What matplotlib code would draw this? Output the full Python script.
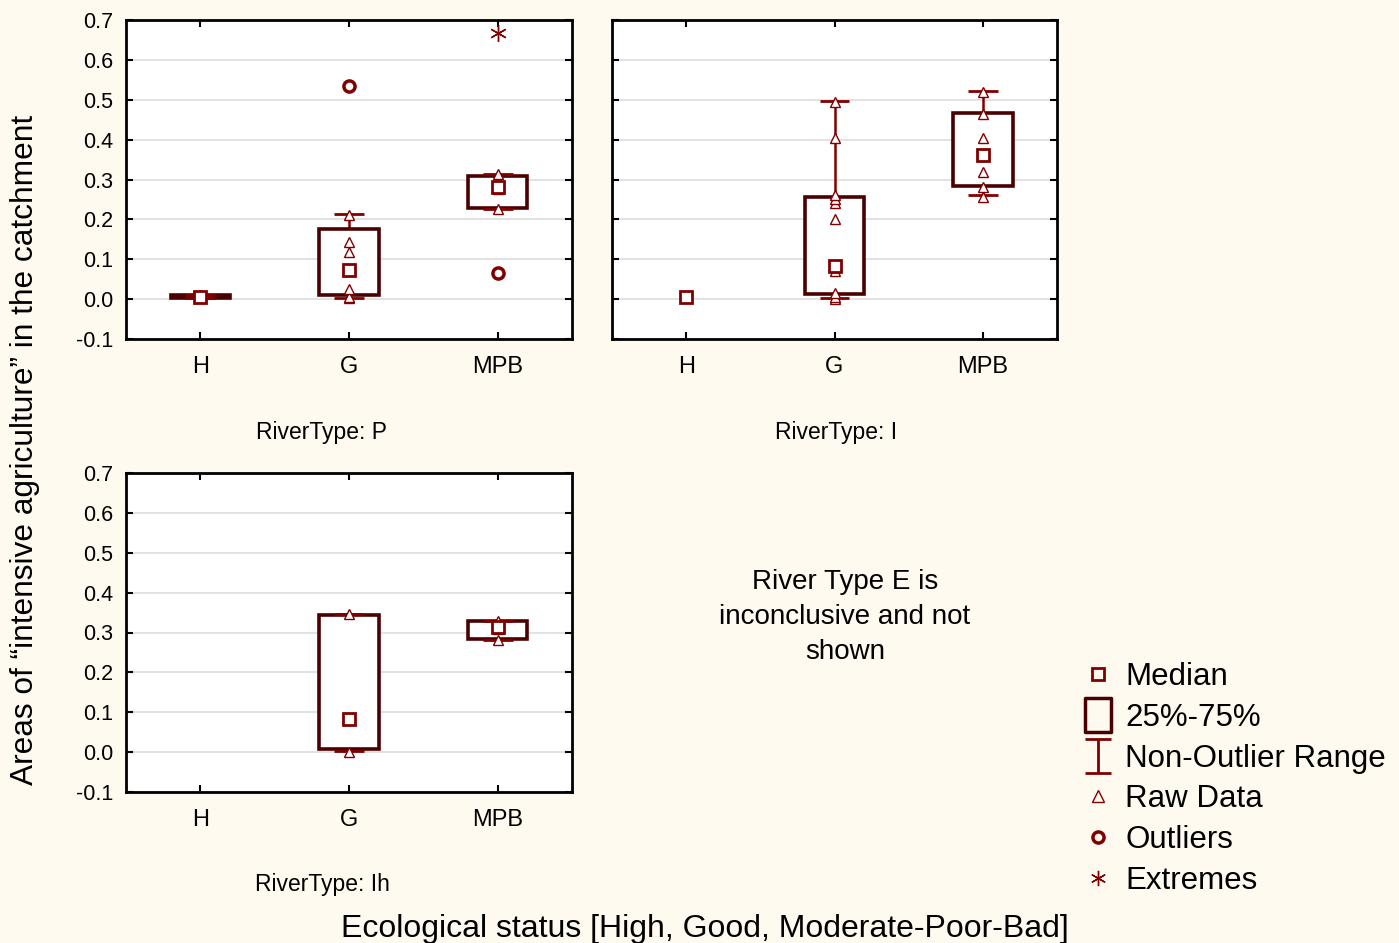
import numpy as np
import matplotlib
matplotlib.use("Agg")
import matplotlib.pyplot as plt
from matplotlib.patches import Rectangle
from matplotlib.lines import Line2D
from matplotlib.path import Path

plt.rcParams['font.family'] = ['Liberation Sans', 'DejaVu Sans']

categories = ["H", "G", "MPB"]
yticks = [-0.1, 0.0, 0.1, 0.2, 0.3, 0.4, 0.5, 0.6, 0.7]

# River type P
p_median = [0.006, 0.073, 0.281]
p_q1 = [0.002, 0.010, 0.228]
p_q3 = [0.010, 0.175, 0.310]
p_wlo = [0.002, 0.004, 0.225]
p_whi = [0.010, 0.213, 0.315]
p_raw = [[0.002, 0.006, 0.010],
         [0.002, 0.006, 0.025, 0.073, 0.118, 0.143, 0.210],
         [0.225, 0.275, 0.285, 0.300, 0.315]]
p_out = [[], [0.534], [0.065]]
p_ext = [[], [], [0.667]]

# River type I
i_median = [0.005, 0.084, 0.361]
i_q1 = [0.005, 0.013, 0.283]
i_q3 = [0.005, 0.256, 0.468]
i_wlo = [0.005, 0.003, 0.262]
i_whi = [0.005, 0.497, 0.522]
i_raw = [[0.005],
         [0.0, 0.005, 0.015, 0.070, 0.080, 0.200, 0.240, 0.250, 0.260, 0.404, 0.495],
         [0.255, 0.280, 0.320, 0.403, 0.465, 0.520]]
i_out = [[], [], []]
i_ext = [[], [], []]

# River type Ih
ih_median = [np.nan, 0.082, 0.314]
ih_q1 = [np.nan, 0.008, 0.284]
ih_q3 = [np.nan, 0.343, 0.329]
ih_wlo = [np.nan, 0.003, 0.280]
ih_whi = [np.nan, 0.346, 0.330]
ih_raw = [[], [0.0, 0.082, 0.347], [0.280, 0.310, 0.320, 0.330]]
ih_out = [[], [], []]
ih_ext = [[], [], []]

BG = '#fffaf0'
BOX = '#4a0000'
RED = '#800000'

fig = plt.figure(figsize=(13.99, 9.43), dpi=100, facecolor=BG)


def draw_panel(ax, med, q1, q3, wlo, whi, raw, out, ext, ylabels=True):
    ax.set_facecolor('white')
    for i in range(len(categories)):
        if np.isnan(med[i]):
            continue
        if whi[i] > wlo[i]:
            ax.vlines(i, wlo[i], whi[i], color=RED, lw=1.8, zorder=2)
            ax.hlines([wlo[i], whi[i]], i - 0.1, i + 0.1, color=RED, lw=2, zorder=4)
        if q3[i] > q1[i]:
            ax.add_patch(Rectangle((i - 0.2, q1[i]), 0.4, q3[i] - q1[i],
                                   facecolor='white', edgecolor=BOX, lw=2.6, zorder=3))
        ax.plot([i] * len(raw[i]), raw[i], '^', ms=7.5, mfc='white', mec=RED, mew=1, ls='none', zorder=5)
        ax.plot(i, med[i], 's', ms=8, mfc='white', mec=RED, mew=2, zorder=6)
        if out[i]:
            ax.plot([i] * len(out[i]), out[i], 'o', ms=8, mfc='white', mec=RED, mew=2.5, ls='none', zorder=6)
        if ext[i]:
            ax.plot([i] * len(ext[i]), ext[i], marker=(6, 2, 0), ms=12, mec=RED, mew=1, ls='none', zorder=6)
    ax.set_xlim(-0.5, 2.5)
    ax.set_ylim(-0.1, 0.7)
    ax.set_xticks(range(len(categories)))
    ax.set_xticklabels(categories, fontsize=17)
    ax.set_yticks(yticks)
    ax.set_yticklabels([f"{v:.1f}" for v in yticks], fontsize=15.5)
    if not ylabels:
        ax.tick_params(labelleft=False)
    ax.tick_params(axis='x', direction='in', top=True, length=5, width=1.5, pad=12.5)
    ax.tick_params(axis='y', direction='in', right=True, length=5, width=1.5, pad=9)
    ax.grid(axis='y', color='#dddddd', lw=1.2, zorder=0)
    ax.set_axisbelow(True)
    for s in ax.spines.values():
        s.set_linewidth(2)


W, H = 1399, 943
ax1 = fig.add_axes([126 / W, 1 - 339 / H, 446 / W, 319 / H])
ax2 = fig.add_axes([612 / W, 1 - 339 / H, 445 / W, 319 / H])
ax3 = fig.add_axes([126 / W, 1 - 792 / H, 446 / W, 319 / H])

draw_panel(ax1, p_median, p_q1, p_q3, p_wlo, p_whi, p_raw, p_out, p_ext)
draw_panel(ax2, i_median, i_q1, i_q3, i_wlo, i_whi, i_raw, i_out, i_ext, ylabels=False)
draw_panel(ax3, ih_median, ih_q1, ih_q3, ih_wlo, ih_whi, ih_raw, ih_out, ih_ext)

fig.text(322 / W, 1 - 432 / H, "RiverType: P", ha='center', va='center', fontsize=16.5)
fig.text(836 / W, 1 - 432 / H, "RiverType: I", ha='center', va='center', fontsize=16.5)
fig.text(322 / W, 1 - 885 / H, "RiverType: Ih", ha='center', va='center', fontsize=16.5)

fig.text(845 / W, 1 - 617 / H, "River Type E is\ninconclusive and not\nshown",
         ha='center', va='center', fontsize=20, linespacing=1.45)

fig.text(25 / W, 1 - 450 / H, "Areas of \u201cintensive agriculture\u201d in the catchment",
         rotation=90, ha='center', va='center', fontsize=22.8)
fig.text(705 / W, 1 - 929 / H, "Ecological status [High, Good, Moderate-Poor-Bad]",
         ha='center', va='center', fontsize=23)

# legend
box_path = Path([(-0.4, -0.5), (0.4, -0.5), (0.4, 0.5), (-0.4, 0.5), (-0.4, -0.5)],
                [Path.MOVETO, Path.LINETO, Path.LINETO, Path.LINETO, Path.CLOSEPOLY])
whisk_path = Path([(-0.4, 0.5), (0.4, 0.5), (0, 0.5), (0, -0.5), (-0.4, -0.5), (0.4, -0.5)],
                  [Path.MOVETO, Path.LINETO, Path.MOVETO, Path.LINETO, Path.MOVETO, Path.LINETO])
handles = [
    Line2D([], [], ls='none', marker='s', ms=8, mfc='none', mec=RED, mew=2),
    Line2D([], [], ls='none', marker=box_path, ms=24, mfc='none', mec=BOX, mew=2.5),
    Line2D([], [], ls='none', marker=whisk_path, ms=24, mfc='none', mec=RED, mew=2),
    Line2D([], [], ls='none', marker='^', ms=8, mfc='none', mec=RED, mew=1),
    Line2D([], [], ls='none', marker='o', ms=8, mfc='none', mec=RED, mew=2.5),
    Line2D([], [], ls='none', marker=(6, 2, 0), ms=11, mec=RED, mew=1),
]
labels = ["Median", "25%-75%", "Non-Outlier Range", "Raw Data", "Outliers", "Extremes"]
fig.legend(handles, labels, loc='upper left', bbox_to_anchor=(1082 / W, 1 - 662 / H),
           frameon=False, fontsize=22.5, handlelength=1.0, handletextpad=0.38,
           labelspacing=0.345, borderpad=0, borderaxespad=0)

fig.savefig("out.png", dpi=100, facecolor=BG)
